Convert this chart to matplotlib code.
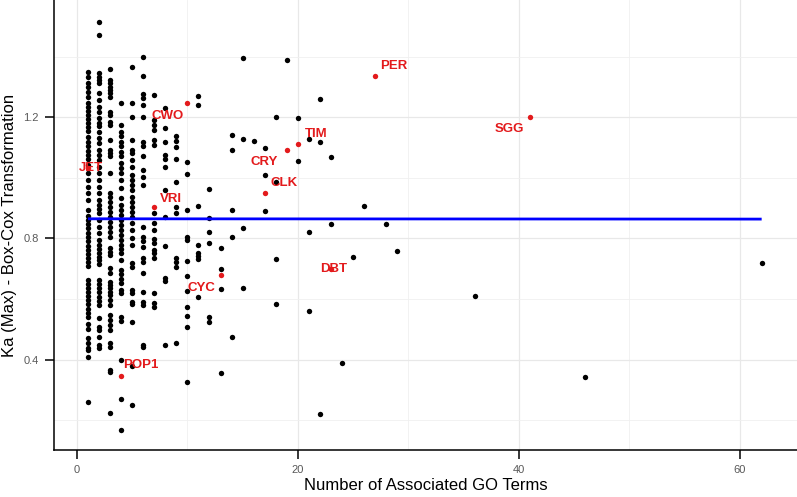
import matplotlib
matplotlib.use("Agg")
import matplotlib.pyplot as plt
import numpy as np

plt.rcParams['font.family'] = ['Liberation Sans', 'DejaVu Sans']

# Ka (Max) Box-Cox values, grouped by number of associated GO terms
ka_1 = [1.351, 1.333, 1.315, 1.300, 1.284, 1.267, 1.247, 1.234, 1.220, 1.207, 1.194, 1.181,
        1.167, 1.154, 1.134, 1.118, 1.104, 1.090, 1.077, 1.064, 1.043, 1.015, 0.993, 0.971,
        0.951, 0.927, 0.894, 0.874, 0.861, 0.848, 0.834, 0.817, 0.804, 0.790, 0.776, 0.763,
        0.750, 0.737, 0.723, 0.710, 0.663, 0.650, 0.636, 0.623, 0.610, 0.597, 0.583, 0.568,
        0.553, 0.539, 0.517, 0.501, 0.470, 0.454, 0.437, 0.431, 0.409, 0.261]
ka_2 = [1.516, 1.472, 1.346, 1.335, 1.322, 1.313, 1.280, 1.258, 1.236, 1.219, 1.197, 1.181,
        1.170, 1.153, 1.131, 1.115, 1.093, 1.076, 1.059, 1.037, 1.015, 0.993, 0.971, 0.949,
        0.927, 0.911, 0.896, 0.883, 0.861, 0.839, 0.817, 0.795, 0.780, 0.766, 0.752, 0.740,
        0.728, 0.715, 0.663, 0.650, 0.636, 0.622, 0.608, 0.594, 0.580, 0.536, 0.508, 0.497,
        0.475, 0.448, 0.437]
ka_3 = [1.359, 1.324, 1.313, 1.302, 1.291, 1.280, 1.269, 1.219, 1.208, 1.186, 1.175, 1.126,
        1.093, 1.082, 1.071, 1.015, 0.949, 0.938, 0.922, 0.905, 0.889, 0.872, 0.856, 0.839,
        0.823, 0.806, 0.767, 0.756, 0.745, 0.701, 0.685, 0.657, 0.646, 0.635, 0.624, 0.613,
        0.597, 0.580, 0.547, 0.531, 0.514, 0.498, 0.453, 0.442, 0.365, 0.360, 0.224]
ka_4 = [1.247, 1.175, 1.153, 1.137, 1.120, 1.104, 1.087, 1.071, 1.049, 1.032, 1.015, 0.993,
        0.966, 0.933, 0.911, 0.894, 0.878, 0.861, 0.845, 0.828, 0.812, 0.795, 0.779, 0.764,
        0.751, 0.729, 0.696, 0.683, 0.665, 0.652, 0.630, 0.619, 0.542, 0.528, 0.400, 0.268,
        0.167]
ka_5 = [1.368, 1.247, 1.203, 1.126, 1.093, 1.082, 1.059, 1.037, 1.010, 0.993, 0.977, 0.960,
        0.938, 0.922, 0.905, 0.889, 0.872, 0.850, 0.828, 0.801, 0.779, 0.718, 0.707, 0.630,
        0.619, 0.591, 0.583, 0.525, 0.378, 0.250]
ka_6 = [1.399, 1.337, 1.277, 1.263, 1.241, 1.203, 1.120, 1.104, 1.071, 1.026, 1.004, 0.977,
        0.839, 0.806, 0.790, 0.773, 0.734, 0.723, 0.685, 0.624, 0.591, 0.580, 0.448, 0.442]
ka_7 = [1.274, 1.192, 1.175, 1.159, 1.126, 1.109, 0.883, 0.850, 0.828, 0.797, 0.784, 0.762,
        0.751, 0.734, 0.619, 0.586, 0.575]
ka_8 = [1.230, 1.164, 1.120, 1.075, 1.062, 1.037, 0.960, 0.872, 0.775, 0.668, 0.660, 0.448]
ka_9 = [1.139, 1.123, 1.103, 1.062, 0.988, 0.905, 0.885, 0.734, 0.723, 0.707, 0.453]
ka_10 = [1.054, 1.013, 0.894, 0.805, 0.795, 0.726, 0.676, 0.628, 0.573, 0.544, 0.509, 0.325]
ka_11 = [1.271, 1.241, 0.907, 0.779, 0.751, 0.742, 0.731, 0.606]
ka_12 = [0.964, 0.867, 0.820, 0.784, 0.539, 0.523]
ka_13 = [0.768, 0.698, 0.634, 0.357]
ka_14 = [1.142, 1.093, 0.894, 0.804, 0.473]
ka_15 = [1.396, 1.128, 0.834, 0.635]
ka_16 = [1.122]
ka_17 = [1.098, 1.010, 0.892]
ka_18 = [1.200, 0.987, 0.733, 0.583]
ka_19 = [1.390]
ka_20 = [1.197, 1.056]
ka_21 = [1.128, 0.823, 0.560]
ka_22 = [1.260, 1.118, 0.220]
ka_23 = [1.068, 0.848]
ka_24 = [0.388]
ka_25 = [0.740]
ka_26 = [0.906]
ka_28 = [0.849]
ka_29 = [0.760]
ka_36 = [0.611]
ka_46 = [0.341]
ka_62 = [0.719]

groups = [(1, ka_1), (2, ka_2), (3, ka_3), (4, ka_4), (5, ka_5), (6, ka_6), (7, ka_7),
          (8, ka_8), (9, ka_9), (10, ka_10), (11, ka_11), (12, ka_12), (13, ka_13),
          (14, ka_14), (15, ka_15), (16, ka_16), (17, ka_17), (18, ka_18), (19, ka_19),
          (20, ka_20), (21, ka_21), (22, ka_22), (23, ka_23), (24, ka_24), (25, ka_25),
          (26, ka_26), (28, ka_28), (29, ka_29), (36, ka_36), (46, ka_46), (62, ka_62)]

# highlighted clock genes
gene_names = ["JET", "CWO", "VRI", "POP1", "CYC", "DBT", "CRY", "CLK", "TIM", "PER", "SGG"]
gene_terms = [1, 10, 7, 4, 13, 23, 19, 17, 20, 27, 41]
gene_ka = [1.033, 1.246, 0.905, 0.345, 0.679, 0.700, 1.093, 0.949, 1.111, 1.337, 1.202]

# fitted line
fit_x = [1, 62]
fit_y = [0.865, 0.864]

# label offsets (points) from each gene
label_dx = [2, -14, 12, 14, -14, 2, -16.5, 14, 13.5, 13.5, -14.5]
label_dy = [0, -9, 5.5, 8, -9, 0, -9, 7.5, 7.5, 7.5, -9]

x = np.concatenate([[g] * len(v) for g, v in groups])
y = np.concatenate([v for g, v in groups])

fig = plt.figure(figsize=(7.97, 4.97), dpi=100)
ax = fig.add_axes([54 / 797, 47 / 497, 743 / 797, 450 / 497])

ax.scatter(x, y, s=15, color="black", linewidths=0, zorder=3)
ax.scatter(gene_terms, gene_ka, s=15, color="#e31a1c", linewidths=0, zorder=4)
ax.plot(fit_x, fit_y, color="#0000ff", lw=2, zorder=5, solid_capstyle="butt")

for name, gx, gy, dx, dy in zip(gene_names, gene_terms, gene_ka, label_dx, label_dy):
    ax.annotate(name, (gx, gy), xytext=(dx, dy), textcoords="offset points",
                ha="center", va="center", color="#e31a1c", fontsize=9.5,
                fontweight="bold", zorder=6)

ax.set_xlim(-2.08, 65.2)
ax.set_ylim(0.101, 1.588)
ax.set_xticks([0, 20, 40, 60])
ax.set_xticks([10, 30, 50], minor=True)
ax.set_yticks([0.4, 0.8, 1.2])
ax.set_yticks([0.2, 0.6, 1.0, 1.4], minor=True)
ax.set_yticklabels(["0.4", "0.8", "1.2"])

ax.grid(which="major", color="#e8e8e8", lw=0.9, zorder=0)
ax.grid(which="minor", color="#f0f0f0", lw=0.6, zorder=0)
ax.set_axisbelow(True)

for s in ["top", "right"]:
    ax.spines[s].set_visible(False)
for s in ["left", "bottom"]:
    ax.spines[s].set_linewidth(1.1)
    ax.spines[s].set_color("black")

ax.tick_params(which="major", length=6.3, width=1.1, color="black",
               labelsize=8, labelcolor="#595959", pad=4.5)
ax.tick_params(which="minor", length=0)

ax.set_xlabel("Number of Associated GO Terms", fontsize=12, color="black")
ax.set_ylabel("Ka (Max) - Box-Cox Transformation", fontsize=12, color="black")
ax.xaxis.set_label_coords(0.5, -0.062)
ax.yaxis.set_label_coords(-0.05, 0.5)

fig.savefig("out.png", dpi=100)
